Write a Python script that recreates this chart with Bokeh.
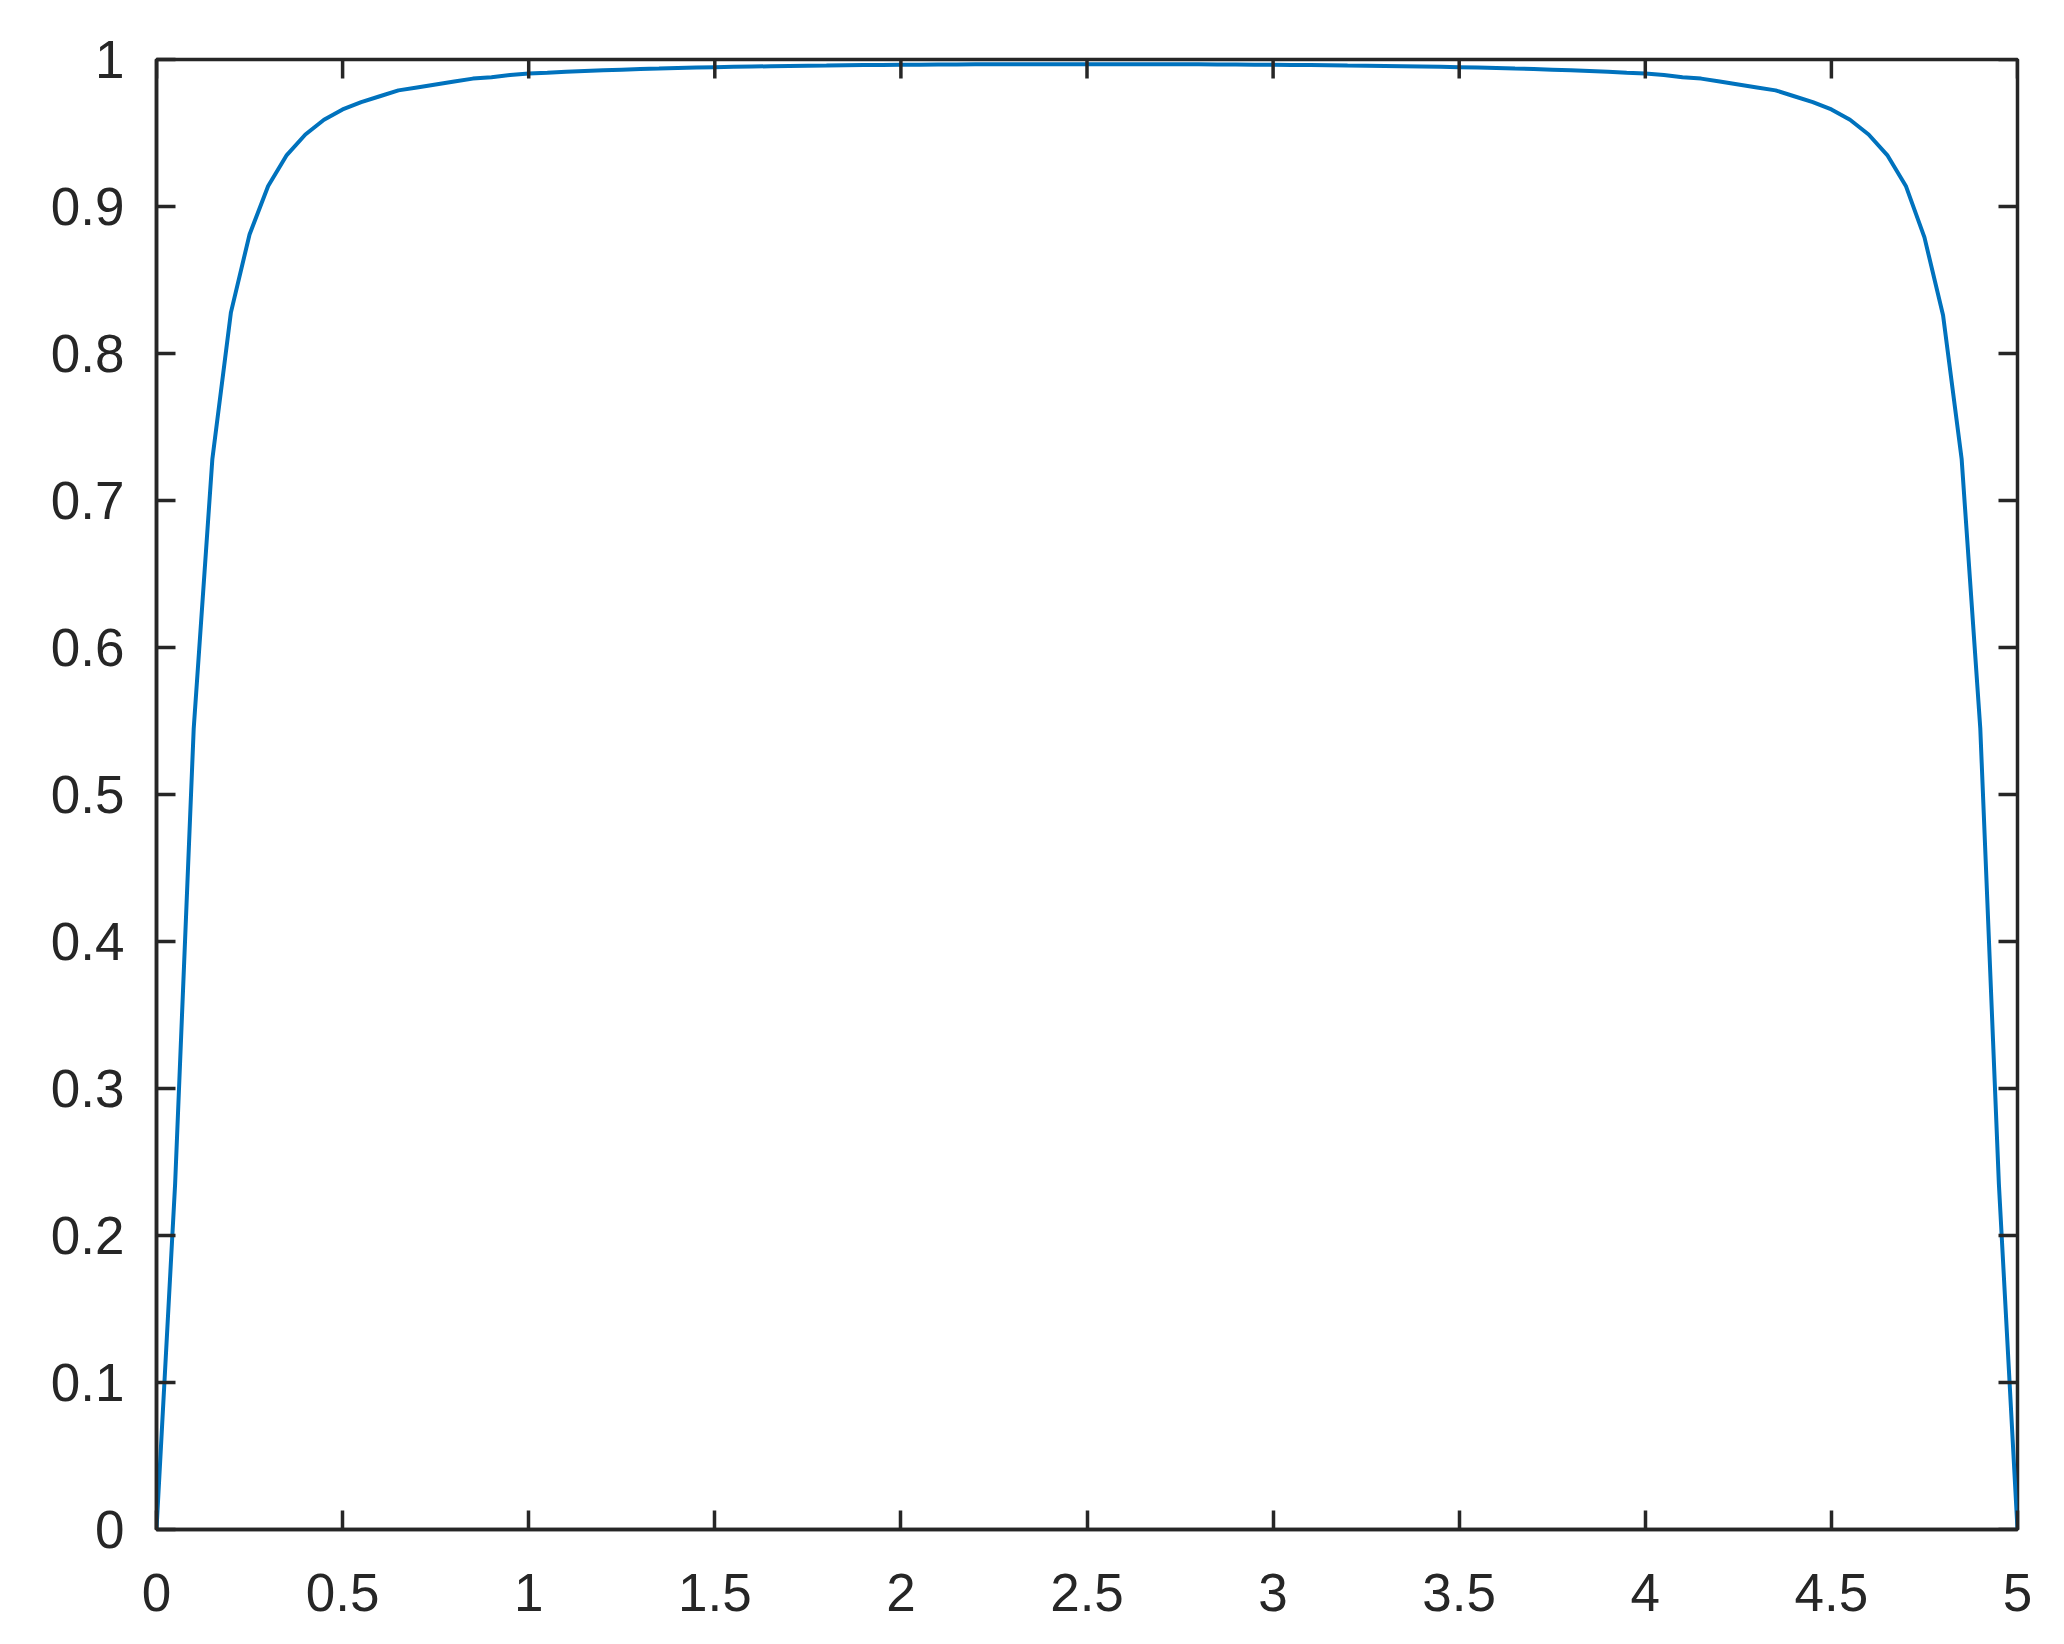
import math
from bokeh.plotting import figure
from bokeh.models import Range1d, FixedTicker
from bokeh.embed import file_html
from bokeh.resources import INLINE

# ---- data ----
x_vals = [round(0.05 * i, 2) for i in range(101)]
y_vals = [
    0.0, 0.235, 0.545, 0.728, 0.828, 0.881, 0.914, 0.935, 0.949, 0.959,
    0.966, 0.971, 0.975, 0.979, 0.981, 0.983, 0.985, 0.987, 0.988, 0.9895,
    0.9905, 0.991, 0.9917, 0.9922, 0.9927, 0.9931, 0.9935, 0.9938, 0.9942, 0.9945,
    0.9948, 0.995, 0.9952, 0.9954, 0.9956, 0.9958, 0.9959, 0.9961, 0.9962, 0.9963,
    0.9964, 0.9965, 0.9966, 0.9966, 0.9967, 0.9967, 0.9967, 0.9968, 0.9968, 0.9968,
    0.9968,
    0.9968, 0.9968, 0.9968, 0.9967, 0.9967, 0.9967, 0.9966, 0.9966, 0.9965, 0.9964,
    0.9963, 0.9962, 0.9961, 0.9959, 0.9958, 0.9956, 0.9954, 0.9952, 0.995, 0.9948,
    0.9945, 0.9942, 0.9938, 0.9935, 0.9931, 0.9927, 0.9922, 0.9917, 0.991, 0.9905,
    0.9895, 0.988, 0.987, 0.985, 0.983, 0.981, 0.979, 0.975, 0.971, 0.966,
    0.959, 0.949, 0.935, 0.914, 0.879, 0.826, 0.728, 0.545, 0.235, 0.0,
]
x_ticks = [0, 0.5, 1, 1.5, 2, 2.5, 3, 3.5, 4, 4.5, 5]
x_tick_labels = ["0", "0.5", "1", "1.5", "2", "2.5", "3", "3.5", "4", "4.5", "5"]
y_ticks = [0, 0.1, 0.2, 0.3, 0.4, 0.5, 0.6, 0.7, 0.8, 0.9, 1]
y_tick_labels = ["0", "0.1", "0.2", "0.3", "0.4", "0.5", "0.6", "0.7", "0.8", "0.9", "1"]

X_MIN, X_MAX = x_ticks[0], x_ticks[-1]
Y_MIN, Y_MAX = y_ticks[0], y_ticks[-1]

AX = "#262626"
FONT = "Liberation Sans"
FS = "53px"
TICK = 19
LW = 3.5

p = figure(width=2048, height=1628, output_backend="svg", toolbar_location=None,
           x_range=Range1d(X_MIN, X_MAX), y_range=Range1d(Y_MIN, Y_MAX),
           min_border_left=156, min_border_right=31, min_border_top=59, min_border_bottom=99)
p.background_fill_color = "white"
p.border_fill_color = "white"
p.outline_line_color = AX
p.outline_line_width = LW
p.xgrid.visible = False
p.ygrid.visible = False

p.line(x_vals, y_vals, line_color="#0072BD", line_width=4)

# mirrored ticks on top and right edges (MATLAB box style)
p.ray(x=x_ticks, y=[Y_MAX] * len(x_ticks), length=TICK, length_units="screen",
      angle=-math.pi / 2, line_color=AX, line_width=LW)
p.ray(x=[X_MAX] * len(y_ticks), y=y_ticks, length=TICK, length_units="screen",
      angle=math.pi, line_color=AX, line_width=LW)

def style(ax, ticks, labels):
    ax.ticker = FixedTicker(ticks=ticks, minor_ticks=[])
    ax.axis_line_color = AX
    ax.axis_line_width = LW
    ax.major_tick_line_color = AX
    ax.major_tick_line_width = LW
    ax.major_tick_in = TICK
    ax.major_tick_out = 0
    ax.minor_tick_line_color = None
    ax.major_label_overrides = {t: l for t, l in zip(ticks, labels)}
    ax.major_label_text_font = FONT
    ax.major_label_text_color = AX
    ax.major_label_text_font_size = FS
    ax.major_label_text_font_style = "normal"

style(p.xaxis[0], x_ticks, x_tick_labels)
style(p.yaxis[0], y_ticks, y_tick_labels)
p.xaxis[0].major_label_standoff = 44
p.yaxis[0].major_label_standoff = 32

open("out.html", "w").write(file_html(p, INLINE))
